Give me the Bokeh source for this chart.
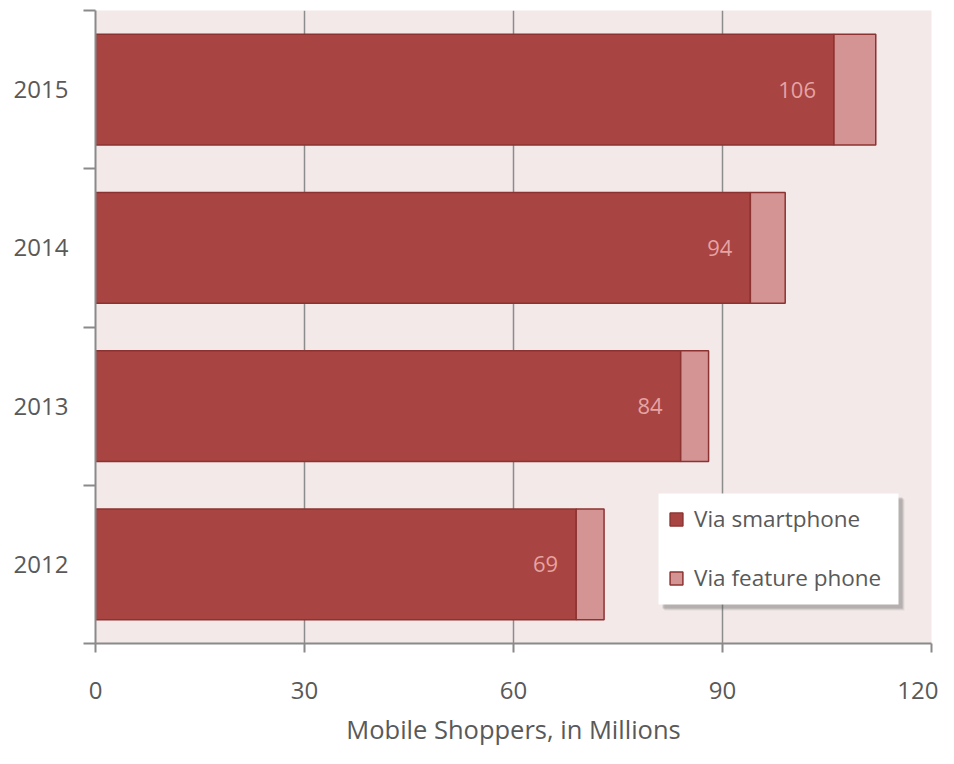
from bokeh.plotting import figure
from bokeh.models import (Range1d, FixedTicker, ColumnDataSource, Legend, LegendItem,
                          BoxAnnotation, LabelSet)
from bokeh.core.properties import value
from bokeh.embed import file_html
from bokeh.resources import INLINE

years = ["2012", "2013", "2014", "2015"]
smartphone = [69, 84, 94, 106]
feature_phone = [4, 4, 5, 6]
x_ticks = [0, 30, 60, 90, 120]

FONT = "Open Sans"
TXT = "#595959"
AX = "#8a8a8a"

pos = list(range(len(years)))
totals = [s + f for s, f in zip(smartphone, feature_phone)]
src = ColumnDataSource(dict(y=pos, s=smartphone, t=totals,
                            lab=[str(v) for v in smartphone]))

p = figure(width=938, height=748, output_backend="svg", toolbar_location=None,
           x_range=Range1d(0, 120), y_range=Range1d(-0.5, len(years) - 0.5),
           min_border_left=95, min_border_right=7, min_border_top=10,
           min_border_bottom=105)
p.background_fill_color = "#f3e9e9"
p.border_fill_color = "white"
p.outline_line_color = None

r1 = p.hbar(y="y", left=0, right="s", height=0.7, source=src,
            fill_color="#a84442", line_color="#8c3331", line_width=1.5)
r2 = p.hbar(y="y", left="s", right="t", height=0.7, source=src,
            fill_color="#d49494", line_color="#8c3331", line_width=1.5)

labels = LabelSet(x="s", y="y", text="lab", source=src, x_offset=-18,
                  text_align="right", text_baseline="middle",
                  text_color="#e6a3a3", text_font=value(FONT), text_font_size="22px")
p.add_layout(labels)

# grid
p.ygrid.visible = False
p.xgrid.ticker = FixedTicker(ticks=x_ticks)
p.xgrid.grid_line_color = "#8c8c8c"
p.xgrid.grid_line_width = 1.5
p.xgrid.level = "underlay"

# x axis
xa = p.xaxis[0]
xa.ticker = FixedTicker(ticks=x_ticks)
xa.axis_line_color = AX
xa.axis_line_width = 2
xa.major_tick_line_color = AX
xa.major_tick_line_width = 2
xa.major_tick_out = 9
xa.major_tick_in = 0
xa.minor_tick_line_color = None
xa.major_label_standoff = 29
xa.major_label_text_font = FONT
xa.major_label_text_font_size = "24px"
xa.major_label_text_color = TXT
xa.axis_label = "Mobile Shoppers, in Millions"
xa.axis_label_text_font = FONT
xa.axis_label_text_font_size = "25.5px"
xa.axis_label_text_font_style = "normal"
xa.axis_label_text_color = TXT
xa.axis_label_standoff = 10

# y axis
ya = p.yaxis[0]
ya.ticker = FixedTicker(ticks=pos, minor_ticks=[i - 0.5 for i in range(len(years) + 1)])
ya.major_label_overrides = {i: y for i, y in enumerate(years)}
ya.axis_line_color = AX
ya.axis_line_width = 2
ya.major_tick_line_color = None
ya.major_tick_out = 0
ya.major_tick_in = 0
ya.minor_tick_line_color = AX
ya.minor_tick_line_width = 2
ya.minor_tick_out = 12
ya.minor_tick_in = 0
ya.major_label_standoff = 15
ya.major_label_text_font = FONT
ya.major_label_text_font_size = "24px"
ya.major_label_text_color = TXT

# legend box with soft shadow
for dx, alpha in [(6, 0.10), (5, 0.15), (4, 0.2)]:
    p.add_layout(BoxAnnotation(left=563 + dx, right=803 + dx, bottom=39 - dx, top=150 - dx,
                               left_units="screen", right_units="screen",
                               bottom_units="screen", top_units="screen",
                               fill_color="#555555", fill_alpha=alpha, line_color=None,
                               level="annotation"))
p.add_layout(BoxAnnotation(left=563, right=803, bottom=39, top=150,
                           left_units="screen", right_units="screen",
                           bottom_units="screen", top_units="screen",
                           fill_color="white", fill_alpha=1.0, line_color=None,
                           level="annotation"))

legend = Legend(items=[LegendItem(label="Via smartphone", renderers=[r1]),
                       LegendItem(label="Via feature phone", renderers=[r2])],
                location=(573, 50), orientation="vertical",
                background_fill_alpha=0.0,
                border_line_color=None, padding=0, spacing=28,
                glyph_width=16, glyph_height=16, label_height=30,
                label_standoff=10, label_text_font=FONT,
                label_text_font_size="22.5px", label_text_color=TXT,
                margin=0)
p.add_layout(legend)

open("out.html", "w").write(file_html(p, INLINE))
